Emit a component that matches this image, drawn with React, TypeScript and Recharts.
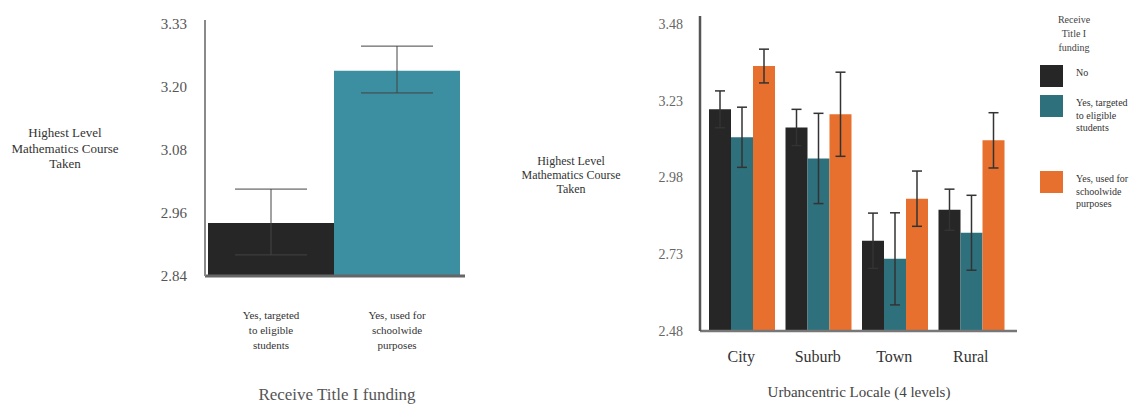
import { BarChart, Bar, XAxis, YAxis, ErrorBar, Cell } from 'recharts';

// left panel: mean by Title I funding
const leftCategories = ['Yes, targeted\nto eligible\nstudents', 'Yes, used for\nschoolwide\npurposes'];
const leftMeans = [2.943, 3.239];
const leftErrors = [[0.062, 0.066], [0.043, 0.048]];
const leftColors = ['#262626', '#3b8fa0'];
const leftTicks = [2.84, 2.9625, 3.085, 3.2075, 3.33];
const leftTickLabels = ['2.84', '2.96', '3.08', '3.20', '3.33'];

// right panel: by urbancentric locale
const locales = ['City', 'Suburb', 'Town', 'Rural'];
const seriesNames = ['No', 'Yes, targeted\nto eligible\nstudents', 'Yes, used for\nschoolwide\npurposes'];
const seriesColors = ['#262626', '#2e717c', '#e8702e'];
const noMeans = [3.202, 3.143, 2.774, 2.875];
const targetedMeans = [3.111, 3.042, 2.715, 2.8];
const schoolwideMeans = [3.343, 3.186, 2.911, 3.101];
const noErrors = [0.06, 0.059, 0.09, 0.067];
const targetedErrors = [0.098, 0.147, 0.15, 0.122];
const schoolwideErrors = [0.055, 0.137, 0.09, 0.09];
const rightTicks = [2.48, 2.73, 2.98, 3.23, 3.48];
const rightTickLabels = ['2.48', '2.73', '2.98', '3.23', '3.48'];

const yLabel = 'Highest Level\nMathematics Course\nTaken';
const serif = '"Liberation Serif", "DejaVu Serif", serif';

const leftData = leftCategories.map((name, i) => ({ name, mean: leftMeans[i], err: leftErrors[i] }));
const rightData = locales.map((name, i) => ({
  name,
  no: noMeans[i],
  noErr: noErrors[i],
  targeted: targetedMeans[i],
  targetedErr: targetedErrors[i],
  schoolwide: schoolwideMeans[i],
  schoolwideErr: schoolwideErrors[i],
}));
const rightKeys = ['no', 'targeted', 'schoolwide'];

function MultiLineTick(props: any) {
  const { x, y, payload, fontSize, lineHeight, dy, fill } = props;
  const lines = String(payload.value).split('\n');
  return (
    <text x={x} y={y} textAnchor="middle" fontSize={fontSize} fill={fill} style={{ fontFamily: serif }}>
      {lines.map((l: string, i: number) => (
        <tspan key={i} x={x} dy={i === 0 ? dy : lineHeight}>{l}</tspan>
      ))}
    </text>
  );
}

function Lines({ text, style }: { text: string; style: any }) {
  return (
    <div style={{ position: 'absolute', fontFamily: serif, textAlign: 'center', whiteSpace: 'pre', ...style }}>
      {text}
    </div>
  );
}

export default function App() {
  return (
    <div style={{ position: 'fixed', left: 0, top: 0, width: 1135, height: 405, background: '#fff', overflow: 'hidden' }}>
      <div style={{ position: 'absolute', left: 0, top: 0 }}>
        <BarChart width={480} height={405} data={leftData} margin={{ top: 20, right: 15, bottom: 29, left: 145 }} barCategoryGap={0}>
          <XAxis
            dataKey="name"
            height={100}
            padding={{ left: 3, right: 5 }}
            axisLine={{ stroke: '#666', strokeWidth: 3 }}
            tickLine={false}
            tickSize={0}
            tickMargin={0}
            tick={<MultiLineTick fontSize={11} lineHeight={15} dy={43} fill="#333" />}
          />
          <YAxis
            width={60}
            domain={[2.84, 3.3378]}
            ticks={leftTicks}
            allowDataOverflow
            tickFormatter={(v: number) => leftTickLabels[leftTicks.indexOf(v)]}
            axisLine={{ stroke: '#8a8a8a', strokeWidth: 2 }}
            tickLine={false}
            tickSize={0}
            tickMargin={18}
            tick={{ fill: '#555', fontSize: 15, fontFamily: serif }}
          />
          <Bar dataKey="mean" isAnimationActive={false}>
            {leftData.map((d, i) => (
              <Cell key={d.name} fill={leftColors[i]} />
            ))}
            <ErrorBar dataKey="err" width={36} stroke="#444" strokeWidth={1} direction="y" />
          </Bar>
        </BarChart>
      </div>

      <Lines text={yLabel} style={{ left: 0, top: 125, width: 130, fontSize: 13, lineHeight: '15.5px', color: '#333' }} />
      <Lines text="Receive Title I funding" style={{ left: 237, top: 385, width: 200, fontSize: 17, color: '#555' }} />

      <div style={{ position: 'absolute', left: 540, top: 0 }}>
        <BarChart width={520} height={405} data={rightData} margin={{ top: 16, right: 43, bottom: 14, left: 110 }} barCategoryGap={6} barGap={0}>
          <XAxis
            dataKey="name"
            height={60}
            padding={{ left: 3, right: 8 }}
            axisLine={{ stroke: '#777', strokeWidth: 2.5 }}
            tickLine={false}
            tickSize={0}
            tickMargin={0}
            tick={<MultiLineTick fontSize={16} lineHeight={16} dy={31} fill="#333" />}
          />
          <YAxis
            width={50}
            domain={[2.48, 3.506]}
            ticks={rightTicks}
            allowDataOverflow
            tickFormatter={(v: number) => rightTickLabels[rightTicks.indexOf(v)]}
            axisLine={{ stroke: '#555', strokeWidth: 2.5 }}
            tickLine={false}
            tickSize={0}
            tickMargin={17}
            tick={{ fill: '#666', fontSize: 14, fontFamily: serif }}
          />
          {rightKeys.map((k, i) => (
            <Bar key={k} dataKey={k} fill={seriesColors[i]} isAnimationActive={false}>
              <ErrorBar dataKey={k + 'Err'} width={5} stroke="#333" strokeWidth={1.5} direction="y" />
            </Bar>
          ))}
        </BarChart>
      </div>

      <Lines text={yLabel} style={{ left: 506, top: 154, width: 130, fontSize: 12, lineHeight: '14px', color: '#333' }} />
      <Lines text="Urbancentric Locale (4 levels)" style={{ left: 739, top: 384, width: 240, fontSize: 15, color: '#444' }} />

      {/* legend */}
      <Lines text={'Receive\nTitle I\nfunding'} style={{ left: 1044, top: 13, width: 60, fontSize: 10, lineHeight: '14px', color: '#444' }} />
      {seriesNames.map((name, i) => {
        const tops = [65, 95, 171];
        return (
          <div key={name}>
            <div style={{ position: 'absolute', left: 1040, top: tops[i], width: 23, height: 22, background: seriesColors[i] }} />
            <div style={{ position: 'absolute', left: 1076, top: tops[i] + 2, fontFamily: serif, fontSize: 10, lineHeight: '12.5px', whiteSpace: 'pre', color: '#333' }}>
              {name}
            </div>
          </div>
        );
      })}
    </div>
  );
}
